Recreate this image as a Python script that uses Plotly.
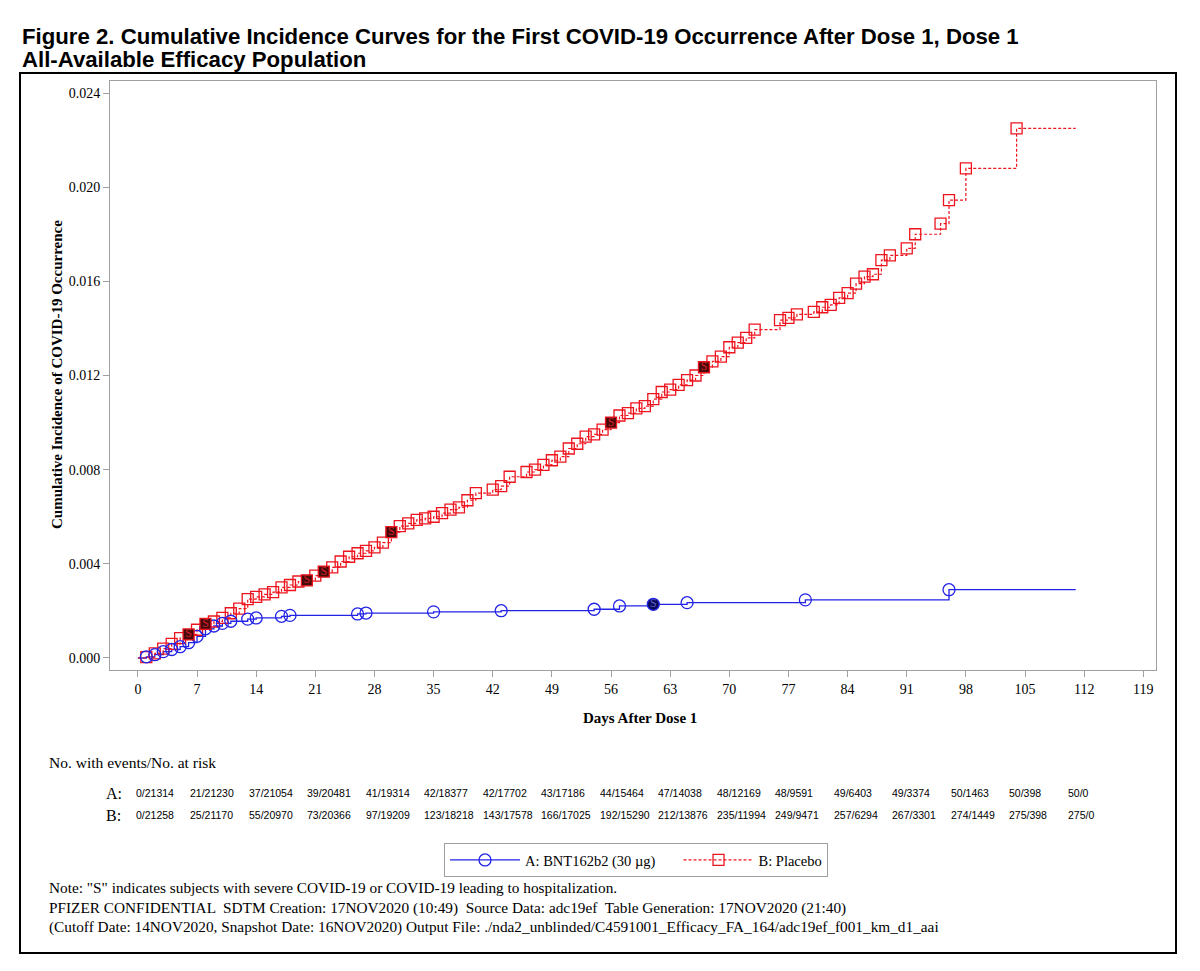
import plotly.graph_objects as go

# ---------------- data ----------------
x_ticks = list(range(0, 120, 7))
y_ticks = [0.000, 0.004, 0.008, 0.012, 0.016, 0.020, 0.024]

# Group A: BNT162b2 (30 ug) - event days and cumulative incidence
a_days = [1, 2, 3, 4, 5, 6, 7, 8, 9, 10, 11, 13, 14, 17, 18, 26, 27, 35, 43,
          54, 57, 61, 65, 79, 96]
a_vals = [0.00005, 0.00014, 0.00027, 0.00036, 0.00048, 0.00065, 0.00092,
          0.00124, 0.00136, 0.00147, 0.00156, 0.00165, 0.00170, 0.00177,
          0.00181, 0.00187, 0.00191, 0.00196, 0.00201, 0.00207, 0.00221,
          0.00228, 0.00235, 0.00247, 0.00290]
a_severe_days = [61]

# Group B: Placebo
b_days = [1, 2, 3, 4, 5, 6, 7, 8, 9, 10, 11, 12, 13, 14, 15, 16, 17, 18, 19,
          20, 21, 22, 23, 24, 25, 26, 27, 28, 29, 30, 31, 32, 33, 34, 35, 36,
          37, 38, 39, 40, 42, 43, 44, 46, 47, 48, 49, 50, 51, 52, 53, 54, 55,
          56, 57, 58, 59, 60, 61, 62, 63, 64, 65, 66, 67, 68, 69, 70, 71, 72,
          73, 76, 77, 78, 80, 81, 82, 83, 84, 85, 86, 87, 88, 89, 91, 92, 95,
          96, 98, 104]
b_vals = [0.00004, 0.00020, 0.00040, 0.00060, 0.00084, 0.00100, 0.00120,
          0.00145, 0.00155, 0.00170, 0.00190, 0.00210, 0.00250, 0.00260,
          0.00270, 0.00280, 0.00300, 0.00310, 0.00325, 0.00330, 0.00350,
          0.00367, 0.00385, 0.00410, 0.00430, 0.00445, 0.00455, 0.00470,
          0.00490, 0.00535, 0.00560, 0.00572, 0.00587, 0.00593, 0.00600,
          0.00615, 0.00630, 0.00640, 0.00670, 0.00700, 0.00715, 0.00730,
          0.00770, 0.00790, 0.00800, 0.00820, 0.00840, 0.00855, 0.00890,
          0.00910, 0.00940, 0.00950, 0.00970, 0.01000, 0.01030, 0.01040,
          0.01060, 0.01070, 0.01100, 0.01130, 0.01140, 0.01160, 0.01180,
          0.01200, 0.01235, 0.01260, 0.01280, 0.01320, 0.01340, 0.01360,
          0.01395, 0.01435, 0.01445, 0.01460, 0.01470, 0.01490, 0.01500,
          0.01530, 0.01550, 0.01590, 0.01620, 0.01630, 0.01690, 0.01710,
          0.01740, 0.01800, 0.01845, 0.01945, 0.02080, 0.02250]
b_severe_days = [6, 8, 20, 22, 30, 56, 67]

last_day = 111

a_risk = ["0/21314", "21/21230", "37/21054", "39/20481", "41/19314",
          "42/18377", "42/17702", "43/17186", "44/15464", "47/14038",
          "48/12169", "48/9591", "49/6403", "49/3374", "50/1463", "50/398",
          "50/0"]
b_risk = ["0/21258", "25/21170", "55/20970", "73/20366", "97/19209",
          "123/18218", "143/17578", "166/17025", "192/15290", "212/13876",
          "235/11994", "249/9471", "257/6294", "267/3301", "274/1449",
          "275/398", "275/0"]

title_lines = ["Figure 2. Cumulative Incidence Curves for the First COVID-19 Occurrence After Dose 1, Dose 1",
               "All-Available Efficacy Population"]
note_lines = ['Note: "S" indicates subjects with severe COVID-19 or COVID-19 leading to hospitalization.',
              "PFIZER CONFIDENTIAL  SDTM Creation: 17NOV2020 (10:49)  Source Data: adc19ef  Table Generation: 17NOV2020 (21:40)",
              "(Cutoff Date: 14NOV2020, Snapshot Date: 16NOV2020) Output File: ./nda2_unblinded/C4591001_Efficacy_FA_164/adc19ef_f001_km_d1_aai"]

# ---------------- style ----------------
BLUE = "rgb(35,35,230)"
RED = "rgb(238,20,30)"
SERIF = "Liberation Serif, Times New Roman, serif"
SANS = "Liberation Sans, Arial, sans-serif"

OFF = 8                      # page body margin
W, H = 1200 - OFF, 971 - OFF
PL, PR, PT, PB = 110, 1156, 81, 670   # plot area in screen pixels


def px(x):
    return (x - PL) / (PR - PL)


def py(y):
    return (PB - y) / (PB - PT)


fig = go.Figure()

# step lines
fig.add_trace(go.Scatter(x=[0] + a_days + [last_day], y=[0] + a_vals + [a_vals[-1]],
                         mode="lines", line=dict(color=BLUE, width=1.3, shape="hv"),
                         showlegend=False, hoverinfo="skip"))
fig.add_trace(go.Scatter(x=[0] + b_days + [last_day], y=[0] + b_vals + [b_vals[-1]],
                         mode="lines", line=dict(color=RED, width=1.2, shape="hv", dash="3px,2px"),
                         showlegend=False, hoverinfo="skip"))

# event markers
a_mx = [d for d in a_days if d not in a_severe_days]
a_my = [v for d, v in zip(a_days, a_vals) if d not in a_severe_days]
b_mx = [d for d in b_days if d not in b_severe_days]
b_my = [v for d, v in zip(b_days, b_vals) if d not in b_severe_days]
fig.add_trace(go.Scatter(x=b_mx, y=b_my, mode="markers",
                         marker=dict(symbol="square-open", size=11, color=RED, line=dict(width=1.3, color=RED)),
                         showlegend=False))
fig.add_trace(go.Scatter(x=a_mx, y=a_my, mode="markers",
                         marker=dict(symbol="circle-open", size=12, color=BLUE, line=dict(width=1.3, color=BLUE)),
                         showlegend=False))

# severe markers
b_sy = [v for d, v in zip(b_days, b_vals) if d in b_severe_days]
a_sy = [v for d, v in zip(a_days, a_vals) if d in a_severe_days]
fig.add_trace(go.Scatter(x=b_severe_days, y=b_sy, mode="markers+text", text=["S"] * len(b_severe_days),
                         textposition="middle center",
                         textfont=dict(family=SERIF, size=12, color="rgb(210,30,40)"),
                         marker=dict(symbol="square", size=11, color="rgb(70,10,10)", line=dict(width=1.3, color=RED)),
                         showlegend=False))
fig.add_trace(go.Scatter(x=a_severe_days, y=a_sy, mode="markers+text", text=["S"] * len(a_severe_days),
                         textposition="middle center",
                         textfont=dict(family=SERIF, size=12, color="rgb(90,90,200)"),
                         marker=dict(symbol="circle", size=12, color="rgb(10,10,90)", line=dict(width=1.3, color=BLUE)),
                         showlegend=False))

# legend entries
fig.add_trace(go.Scatter(x=[None], y=[None], mode="lines+markers",
                         name="A: BNT162b2 (30 µg)" + "\u00a0" * 5,
                         line=dict(color=BLUE, width=1.3),
                         marker=dict(symbol="circle-open", size=12, color=BLUE, line=dict(width=1.3))))
fig.add_trace(go.Scatter(x=[None], y=[None], mode="lines+markers", name="B: Placebo",
                         line=dict(color=RED, width=1.2, dash="3px,2px"),
                         marker=dict(symbol="square-open", size=11, color=RED, line=dict(width=1.3))))

ann = []
# titles
ann.append(dict(text="<b>" + title_lines[0] + "</b>", x=px(20), y=py(37), xref="paper", yref="paper",
                xanchor="left", yanchor="middle", showarrow=False,
                font=dict(family=SANS, size=22.2, color="black")))
ann.append(dict(text="<b>" + title_lines[1] + "</b>", x=px(20), y=py(59), xref="paper", yref="paper",
                xanchor="left", yanchor="middle", showarrow=False,
                font=dict(family=SANS, size=22.2, color="black")))
# axis titles
ann.append(dict(text="<b>Cumulative Incidence of COVID-19 Occurrence</b>", x=px(57), y=py(375),
                xref="paper", yref="paper", textangle=-90, showarrow=False,
                xanchor="center", yanchor="middle", font=dict(family=SERIF, size=15, color="black")))
ann.append(dict(text="<b>Days After Dose 1</b>", x=px(640), y=py(718), xref="paper", yref="paper",
                showarrow=False, xanchor="center", yanchor="middle",
                font=dict(family=SERIF, size=15, color="black")))
# risk table
ann.append(dict(text="No. with events/No. at risk", x=px(47), y=py(762), xref="paper", yref="paper",
                showarrow=False, xanchor="left", yanchor="middle",
                font=dict(family=SERIF, size=15.5, color="black")))
ann.append(dict(text="A:", x=px(104), y=py(793), xref="paper", yref="paper", showarrow=False,
                xanchor="left", yanchor="middle", font=dict(family=SERIF, size=16, color="black")))
ann.append(dict(text="B:", x=px(104), y=py(815), xref="paper", yref="paper", showarrow=False,
                xanchor="left", yanchor="middle", font=dict(family=SERIF, size=16, color="black")))
for i, (ta, tb) in enumerate(zip(a_risk, b_risk)):
    xl = 134 if i == 0 else 188 + 58.5 * (i - 1)
    for txt, yy in ((ta, 793), (tb, 815)):
        ann.append(dict(text=txt, x=px(xl), y=py(yy), xref="paper", yref="paper", showarrow=False,
                        xanchor="left", yanchor="middle", font=dict(family=SANS, size=10.5, color="black")))
# notes
for txt, yy in zip(note_lines, (887, 908, 927)):
    ann.append(dict(text=txt, x=px(47), y=py(yy), xref="paper", yref="paper", showarrow=False,
                    xanchor="left", yanchor="middle", font=dict(family=SERIF, size=15.3, color="black")))

shapes = [dict(type="rect", xref="paper", yref="paper", x0=px(20), x1=px(1176), y0=py(953), y1=py(73),
               line=dict(color="black", width=2), fillcolor="rgba(0,0,0,0)", layer="below")]

AX = "rgb(160,160,160)"
fig.update_layout(
    width=W, height=H,
    margin=dict(l=PL - OFF, r=1200 - PR, t=PT - OFF, b=971 - PB, pad=0),
    paper_bgcolor="white", plot_bgcolor="white",
    annotations=ann, shapes=shapes,
    legend=dict(orientation="h", x=px(444), y=py(843), xanchor="left", yanchor="top",
                bordercolor=AX, borderwidth=1, bgcolor="white", itemwidth=70,
                font=dict(family=SERIF, size=14.5, color="black")),
    xaxis=dict(range=[-3.3, 120.5], tickvals=x_ticks, ticks="outside", ticklen=6, tickcolor=AX,
               showline=True, linecolor=AX, linewidth=1, mirror=True, showgrid=False, zeroline=False,
               tickfont=dict(family=SERIF, size=14, color="black")),
    yaxis=dict(range=[-0.00051, 0.02451], tickvals=y_ticks, tickformat=".3f", ticks="outside", ticklen=6,
               tickcolor=AX, showline=True, linecolor=AX, linewidth=1, mirror=True, showgrid=False,
               zeroline=False, tickfont=dict(family=SERIF, size=14, color="black")),
)

fig.write_html("out.html")
